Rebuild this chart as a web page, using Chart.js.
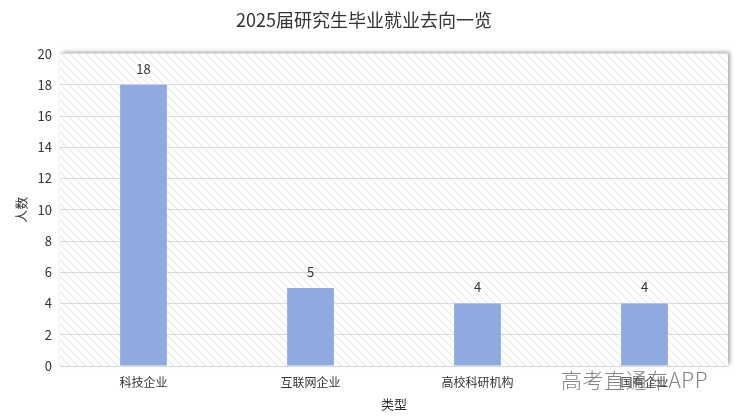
<!DOCTYPE html>
<html>
<head>
<meta charset="utf-8">
<script src="https://cdn.jsdelivr.net/npm/chart.js@4/dist/chart.umd.min.js"></script>
<style>
  html, body { margin: 0; padding: 0; background: #fff; }
  #wrap { position: relative; width: 738px; height: 419px; }
  #watermark {
    position: absolute; left: 561px; top: 367px;
    font-family: "Noto Sans CJK SC", sans-serif; font-size: 21px; font-weight: 300;
    letter-spacing: 0.5px;
    color: rgba(100, 100, 100, 0.8); white-space: nowrap; line-height: 24px;
  }
</style>
</head>
<body>
<div id="wrap">
  <canvas id="chart" width="738" height="419"></canvas>
  <div id="watermark">高考直通车APP</div>
</div>
<script>
// dados do gráfico
const categorias = ['科技企业', '互联网企业', '高校科研机构', '国有企业'];
const valores = [18, 5, 4, 4];
const titulo = '2025届研究生毕业就业去向一览';

const fonte = '"Noto Sans CJK SC", "Noto Sans", sans-serif';

// padrão de listras diagonais para o fundo da área do gráfico
const criarPadrao = () => {
    const c = document.createElement('canvas');
    c.width = 8; c.height = 8;
    const g = c.getContext('2d');
    g.fillStyle = '#ffffff';
    g.fillRect(0, 0, 8, 8);
    g.strokeStyle = '#f0f0f0';
    g.lineWidth = 1.6;
    g.beginPath();
    g.moveTo(-2, -2); g.lineTo(10, 10);
    g.moveTo(-2, 6); g.lineTo(2, 10);
    g.moveTo(6, -2); g.lineTo(10, 2);
    g.stroke();
    return g.createPattern(c, 'repeat');
};

const fundoPlugin = {
    id: 'fundo',
    beforeDraw(chart) {
        const { ctx, chartArea: a } = chart;
        ctx.save();
        ctx.shadowColor = 'rgba(0,0,0,0.35)';
        ctx.shadowBlur = 4;
        ctx.shadowOffsetX = 2;
        ctx.shadowOffsetY = -2;
        ctx.fillStyle = '#fff';
        ctx.fillRect(a.left, a.top, a.right - a.left, a.bottom - a.top);
        ctx.restore();
        ctx.save();
        ctx.fillStyle = criarPadrao();
        ctx.fillRect(a.left, a.top, a.right - a.left, a.bottom - a.top);
        ctx.restore();
    }
};

// rótulos de valor acima das barras
const rotulosPlugin = {
    id: 'rotulos',
    afterDatasetsDraw(chart) {
        const { ctx } = chart;
        const meta = chart.getDatasetMeta(0);
        ctx.save();
        ctx.font = '13px ' + fonte;
        ctx.fillStyle = '#333';
        ctx.textAlign = 'center';
        ctx.textBaseline = 'middle';
        meta.data.forEach((bar, i) => {
            ctx.fillText(String(valores[i]), bar.x, bar.y - 16);
        });
        ctx.restore();
    }
};

const ctx = document.getElementById('chart').getContext('2d');
const chart = new Chart(ctx, {
    type: 'bar',
    data: {
        labels: categorias,
        datasets: [{
            data: valores,
            backgroundColor: '#8eaadf',
            borderWidth: 0,
            categoryPercentage: 1,
            barPercentage: 0.28
        }]
    },
    options: {
        responsive: false,
        animation: false,
        layout: { padding: { left: 0, right: 10, top: 0, bottom: 0 } },
        plugins: {
            legend: { display: false },
            tooltip: { enabled: false },
            title: {
                display: true,
                text: titulo,
                color: '#333',
                font: { family: fonte, size: 18, weight: 'normal' },
                padding: { top: 9, bottom: 23 }
            }
        },
        scales: {
            x: {
                grid: { display: false, drawTicks: false },
                border: { display: true, color: '#d9d9d9' },
                ticks: { color: '#333', font: { family: fonte, size: 12 }, padding: 9 },
                title: { display: true, text: '类型', color: '#333', font: { family: fonte, size: 13 }, padding: { top: 1, bottom: 7 } },
                afterFit: (s) => { s.height = 53; }
            },
            y: {
                min: 0, max: 20,
                ticks: { stepSize: 2, color: '#333', font: { family: fonte, size: 13 }, padding: 8 },
                grid: { color: '#dcdcdc', drawTicks: false },
                border: { display: false },
                title: { display: true, text: '人数', color: '#333', font: { family: fonte, size: 13 }, padding: { top: 13, bottom: 0 } },
                afterFit: (s) => { s.width = 60; }
            }
        }
    },
    plugins: [fundoPlugin, rotulosPlugin]
});
</script>
</body>
</html>
